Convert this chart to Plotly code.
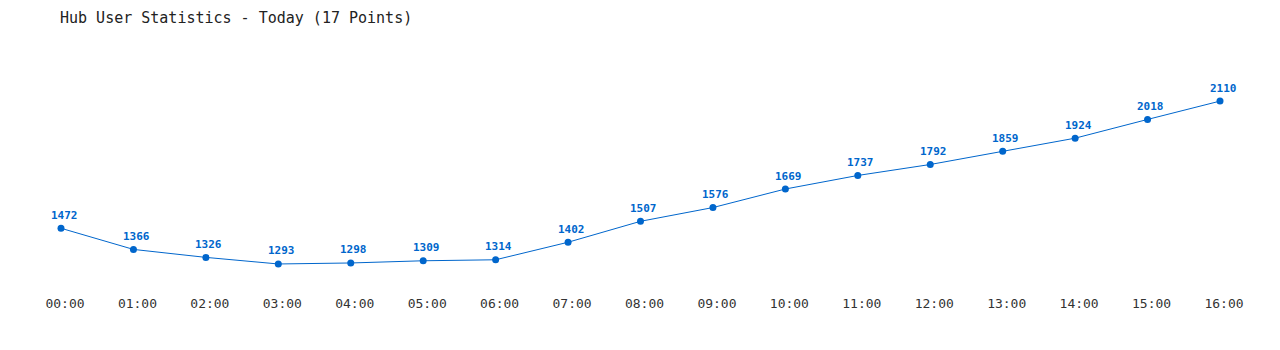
import plotly.graph_objects as go

hours = ["00:00","01:00","02:00","03:00","04:00","05:00","06:00","07:00","08:00",
         "09:00","10:00","11:00","12:00","13:00","14:00","15:00","16:00"]
users = [1472,1366,1326,1293,1298,1309,1314,1402,1507,1576,1669,1737,1792,1859,1924,2018,2110]
xpos = list(range(len(hours)))

fig = go.Figure()
fig.add_trace(go.Scatter(
    x=xpos, y=users, mode="lines+markers",
    line=dict(color="#0066cc", width=1),
    marker=dict(color="#0066cc", size=7),
    cliponaxis=False, hoverinfo="skip",
))
for xi, v in zip(xpos, users):
    fig.add_annotation(x=xi, y=v, text=str(v), showarrow=False, xshift=3, yshift=13,
                       font=dict(family="DejaVu Sans Mono", size=11, color="#0066cc", weight="bold"))
fig.update_layout(
    width=1280, height=350,
    margin=dict(l=61, r=60, t=40, b=60),
    paper_bgcolor="white", plot_bgcolor="white",
    showlegend=False,
    title=dict(text="Hub User Statistics - Today (17 Points)", x=60/1280, xanchor="left",
               y=1-18/350, yanchor="middle",
               font=dict(family="DejaVu Sans Mono", size=15, color="#222222")),
    xaxis=dict(range=[0, 16], tickvals=xpos, ticktext=hours, showgrid=False, zeroline=False,
               showline=False, ticks="", ticklabelshift=4, ticklabelstandoff=4,
               tickfont=dict(family="DejaVu Sans Mono", size=13, color="#333333")),
    yaxis=dict(range=[1162.4, 2416.5], visible=False),
)
fig.write_html("out.html")
